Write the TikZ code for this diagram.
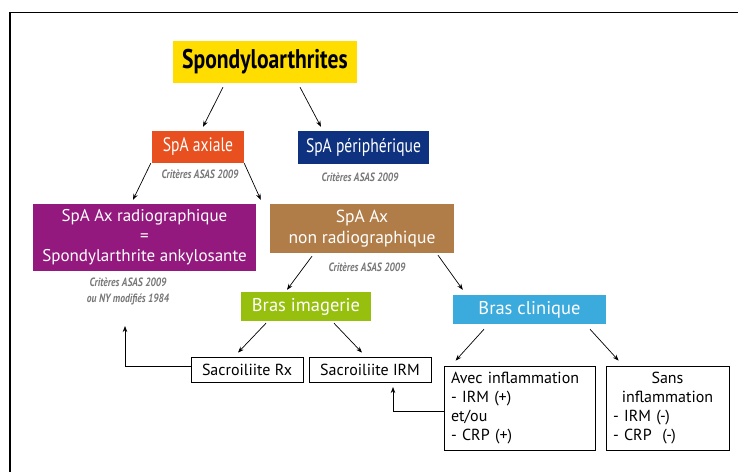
\documentclass[tikz,border=0pt]{standalone}
\usepackage{fontspec}
\setmainfont{PT Sans}
\newfontfamily\condf{PT Sans}[FakeStretch=0.8]
\usetikzlibrary{arrows.meta}
\definecolor{cyel}{HTML}{FFDD00}
\definecolor{corg}{HTML}{E8511F}
\definecolor{cblu}{HTML}{0E3180}
\definecolor{cpur}{HTML}{94197E}
\definecolor{cbrn}{HTML}{B07D48}
\definecolor{cgrn}{HTML}{97BF0D}
\definecolor{ccya}{HTML}{3BAADC}
\definecolor{cgry}{HTML}{777777}
\tikzset{
  colbox/.style={inner sep=0pt, align=center, text=white},
  wbox/.style={draw=black, line width=0.8pt, fill=white, inner sep=0pt, align=center, font=\fontsize{16}{19}\selectfont},
  crit/.style={text=cgry, align=center, font=\condf\bfseries\itshape\fontsize{12}{16}\selectfont},
  arr/.style={line width=0.7pt, -{Stealth[length=6pt,width=4.5pt]}},
}
\begin{document}
\begin{tikzpicture}[x=1pt,y=-1pt]
\useasboundingbox (0,0) rectangle (738,472);
\draw[line width=1.3pt] (10,472) -- (10,12.5) -- (738,12.5);

\node[colbox, fill=cyel, text=black, minimum width=184pt, minimum height=42pt,
  font=\condf\bfseries\fontsize{27}{30}\selectfont] (spondy) at (265,62) {Spondyloarthrites};
\node[colbox, fill=corg, minimum width=92pt, minimum height=32pt,
  font=\condf\fontsize{19.5}{22}\selectfont] (axiale) at (198,147) {SpA axiale};
\node[colbox, fill=cblu, minimum width=131pt, minimum height=33pt,
  font=\condf\fontsize{19.5}{22}\selectfont] (peri) at (363.5,147.5) {SpA périphérique};
\node[crit] (crit1) at (200,174) {Critères ASAS 2009};
\node[crit] (crit2) at (360,177) {Critères ASAS 2009};

\node[colbox, fill=cpur, minimum width=223pt, minimum height=67pt,
  font=\fontsize{17}{20}\selectfont] (radio) at (144.5,237.5) {SpA Ax radiographique\\=\\Spondylarthrite ankylosante};
\node[colbox, fill=cbrn, minimum width=184pt, minimum height=49pt,
  font=\fontsize{17.5}{21}\selectfont] (nonradio) at (362,228.5) {SpA Ax\\non radiographique};
\node[crit] (crit3) at (128,291) {Critères ASAS 2009\\ou NY modifiés 1984};
\node[crit] (crit4) at (367,267) {Critères ASAS 2009};

\node[colbox, fill=cgrn, minimum width=130pt, minimum height=29pt,
  font=\fontsize{18.5}{21}\selectfont] (imag) at (306,306.5) {Bras imagerie};
\node[colbox, fill=ccya, minimum width=153pt, minimum height=29pt,
  font=\fontsize{18.5}{21}\selectfont] (clin) at (529.5,309.5) {Bras clinique};

\node[wbox, minimum width=112pt, minimum height=25pt] (rx) at (247,369.5) {Sacroiliite Rx};
\node[wbox, minimum width=122pt, minimum height=25pt] (irm) at (370,369.5) {Sacroiliite IRM};
\node[wbox, text width=137pt, inner xsep=7pt, minimum height=84pt, align=left] (avec) at (519.5,408)
  {Avec inflammation\\- IRM (+)\\et/ou\\- CRP (+)};
\node[wbox, text width=109pt, inner xsep=7pt, minimum height=84pt, align=left] (sans) at (667.5,408)
  {\makebox[109pt]{Sans}\\\makebox[109pt]{inflammation}\\- IRM (-)\\- CRP\ \ (-)};

\draw[arr] ([xshift=-42pt,yshift=-4pt]spondy.south) -- ([xshift=5pt,yshift=4pt]axiale.north);
\draw[arr] ([xshift=35pt,yshift=-4pt]spondy.south) -- ([xshift=-42.5pt,yshift=4pt]peri.north);
\draw[arr] ([xshift=-1pt]axiale.south west) -- ([xshift=-11.5pt,yshift=4pt]radio.north);
\draw[arr] (axiale.south east) -- ([xshift=-9pt,yshift=4pt]nonradio.north west);
\draw[arr] ([xshift=-50pt,yshift=-3pt]nonradio.south) -- ([xshift=-19pt,yshift=2pt]imag.north);
\draw[arr] ([xshift=76pt,yshift=-2pt]nonradio.south) -- ([xshift=10pt,yshift=5pt]clin.north west);
\draw[arr] ([xshift=-40pt,yshift=-2pt]imag.south) -- ([xshift=-9pt,yshift=4pt]rx.north);
\draw[arr] ([xshift=28pt,yshift=-2pt]imag.south) -- ([xshift=-8pt,yshift=4pt]irm.north);
\draw[arr] ([xshift=-45.5pt,yshift=-5pt]clin.south) -- ([xshift=12pt,yshift=5pt]avec.north west);
\draw[arr] ([xshift=60.5pt,yshift=-5pt]clin.south) -- ([xshift=13pt,yshift=5pt]sans.north west);

\coordinate (up1) at (125,326);
\coordinate (up2) at (393,387);
\draw[arr] ([yshift=3.5pt]rx.west) -| (up1);
\draw[arr] ([yshift=-3pt]avec.west) -| (up2);
\end{tikzpicture}
\end{document}
